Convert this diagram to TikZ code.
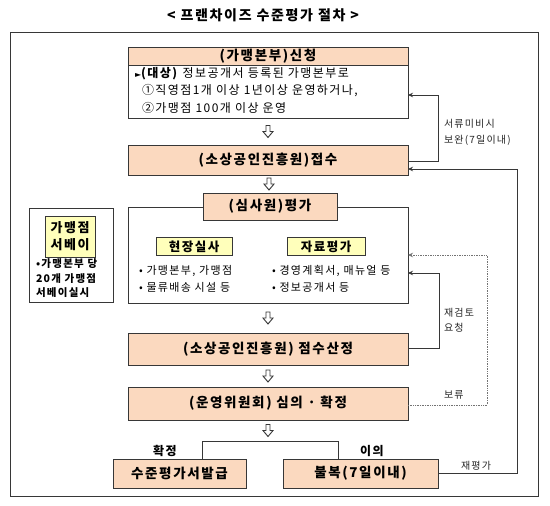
\documentclass[tikz,border=0pt]{standalone}
\usepackage{fontspec}
\setmainfont{Noto Sans CJK KR}[LetterSpace=12]
\newfontfamily\symfont{DejaVu Sans}
\usetikzlibrary{calc,arrows.meta}
\definecolor{peach}{RGB}{251,217,191}
\definecolor{lyellow}{RGB}{255,255,187}
\definecolor{linec}{RGB}{55,55,55}
\tikzset{
  every node/.style={inner sep=0pt, outer sep=0pt},
  box/.style={draw=linec, line width=0.9pt, fill=peach, font=\bfseries\fontsize{13.5}{15}\selectfont, anchor=center},
  ybox/.style={draw=linec, line width=0.8pt, fill=lyellow, font=\bfseries\fontsize{12.5}{16}\selectfont, align=center},
  frame/.style={draw=linec, line width=0.8pt, fill=white},
  txt/.style={font=\fontsize{12}{14}\selectfont, anchor=west},
  btxt/.style={font=\fontsize{11}{13}\selectfont, anchor=west},
  side/.style={font=\fontsize{10}{12}\selectfont, anchor=west, text=black!85},
  lbl/.style={font=\bfseries\fontsize{12}{14}\selectfont},
  arr/.style={draw=linec, line width=0.7pt, -{Stealth[length=5pt,width=4.5pt]}},
  hollow/.pic={\draw[linec, line width=0.9pt, fill=white, line join=miter]
     (-2,-6) -- (2,-6) -- (2,0) -- (5,0) -- (0,6) -- (-5,0) -- (-2,0) -- cycle;}
}
\begin{document}
\begin{tikzpicture}[x=1pt,y=-1pt]
\useasboundingbox (0,0) rectangle (550,506);
% title and outer frame
\node[font=\bfseries\fontsize{14}{16}\selectfont] (title) at (263,15) {< 프랜차이즈 수준평가 절차 >};
\node[frame, minimum width=528pt, minimum height=464pt] (outer) at (274,264) {};

% application box
\node[frame, minimum width=280pt, minimum height=53pt] (applybody) at (268,91.5) {};
\node[box, minimum width=280pt, minimum height=18pt] (apply) at (268,56) {(가맹본부)신청};
\node[txt] (l1) at (135,74) {{\symfont\fontsize{8}{9}\selectfont ►}\textbf{(대상)} 정보공개서 등록된 가맹본부로};
\node[txt] (l2) at (142,91) {①직영점1개 이상 1년이상 운영하거나,};
\node[txt] (l3) at (142,108) {②가맹점 100개 이상 운영};

% receipt
\node[box, minimum width=280pt, minimum height=30pt] (receive) at (268,160) {(소상공인진흥원)접수};

% evaluation
\node[frame, minimum width=280pt, minimum height=96pt] (evalframe) at (268,255) {};
\node[box, minimum width=134pt, minimum height=27pt] (evalhdr) at (270,206.5) {(심사원)평가};
\node[ybox, minimum width=76pt, minimum height=18pt] (field) at (194,246.5) {현장실사};
\node[ybox, minimum width=78pt, minimum height=18pt] (docs) at (326,246.5) {자료평가};
\node[btxt] (f1) at (139,271) {• 가맹본부, 가맹점};
\node[btxt] (f2) at (139,287) {• 물류배송 시설 등};
\node[btxt] (d1) at (272,271) {• 경영계획서, 매뉴얼 등};
\node[btxt] (d2) at (272,287) {• 정보공개서 등};

% survey
\node[frame, minimum width=84pt, minimum height=94pt] (survey) at (71,255) {};
\node[ybox, minimum width=50pt, minimum height=41pt, font=\bfseries\fontsize{13}{17}\selectfont] (surveyhdr) at (70,236.5) {가맹점\\서베이};
\node[btxt, font=\bfseries\fontsize{10.5}{12}\selectfont] (s1) at (36,264) {•가맹본부 당};
\node[btxt, font=\bfseries\fontsize{10.5}{12}\selectfont] (s2) at (36,279) {20개 가맹점};
\node[btxt, font=\bfseries\fontsize{10.5}{12}\selectfont] (s3) at (36,293) {서베이실시};

% scoring, committee
\node[box, minimum width=280pt, minimum height=32pt] (score) at (268,349) {(소상공인진흥원) 점수산정};
\node[box, minimum width=280pt, minimum height=33pt] (review) at (268,403.5) {(운영위원회) 심의 · 확정};

% results
\node[box, minimum width=133pt, minimum height=29pt] (issue) at (179.5,473.5) {수준평가서발급};
\node[box, minimum width=155pt, minimum height=29pt] (appeal) at (360.5,473.5) {불복(7일이내)};
\node[lbl] (confirm) at (165,451) {확정};
\node[lbl] (objection) at (372,451) {이의};

% hollow flow arrows
\pic at ($(applybody.south)!0.5!(receive.north)$) {hollow};
\pic at ($(receive.south)!0.5!(evalhdr.north)$) {hollow};
\pic at ($(evalframe.south)!0.5!(score.north)$) {hollow};
\pic at ($(score.south)!0.5!(review.north)$) {hollow};
\coordinate (bl) at (202,441);
\coordinate (br) at (338,441);
\pic at ($(review.south)!0.5!(review.south|-bl)$) {hollow};
\draw[linec, line width=0.8pt] (bl |- issue.north) -- (bl) -- (br) -- (br |- appeal.north);

% feedback loops
\draw[arr] ($(receive.east)+(0,1)$) -- ++(30,0) |- ($(applybody.east)+(0,3.5)$);
\draw[arr] (appeal.east) -- ++(79,0) |- ($(receive.east)+(0,9)$);
\draw[arr] ($(score.east)+(0,-1)$) -- ++(31,0) |- ($(evalframe.east)+(0,18)$);
\draw[arr, draw=black!55, densely dotted] ($(review.east)+(0,1.5)$) -- ++(79,0) |- (evalframe.east);

% side labels
\node[side] (t1) at (444,124) {서류미비시};
\node[side] (t2) at (444,140.5) {보완(7일이내)};
\node[side] (t3) at (444,313) {재검토};
\node[side] (t4) at (444,328) {요청};
\node[side] (t5) at (444,395) {보류};
\node[side] (t6) at (461,466) {재평가};
\end{tikzpicture}
\end{document}
